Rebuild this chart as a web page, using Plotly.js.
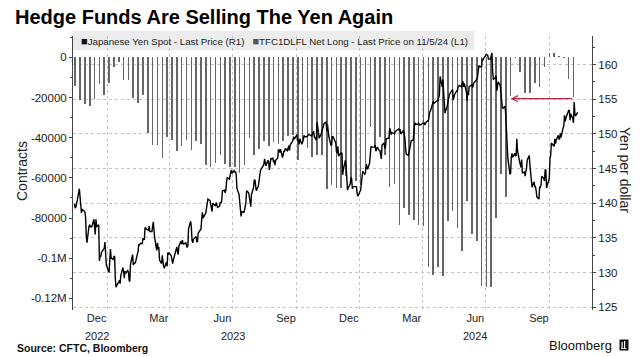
<!DOCTYPE html>
<html>
<head>
<meta charset="utf-8">
<script src="https://cdn.plot.ly/plotly-3.0.1.min.js"></script>
<style>
html,body{margin:0;padding:0;background:#fff;}
#chart{width:643px;height:357px;}
</style>
</head>
<body>
<div id="chart"></div>
<script>
// ---------- Japanese Yen Spot (USDJPY), daily ----------
const yenMonths = ['2022-11','2022-12','2023-01','2023-02','2023-03','2023-04','2023-05','2023-06','2023-07','2023-08','2023-09','2023-10','2023-11','2023-12','2024-01','2024-02','2024-03','2024-04','2024-05','2024-06','2024-07','2024-08','2024-09','2024-10','2024-11'];
const yenDays = [
  [14,15,16,17,18,21,22,23,24,25,28,29,30],
  [1,2,5,6,7,8,9,12,13,14,15,16,19,20,21,22,23,27,28,29,30],
  [3,4,5,6,9,10,11,12,13,16,17,18,19,20,23,24,25,26,27,30,31],
  [1,2,3,6,7,8,9,10,13,14,15,16,17,20,21,22,23,24,27,28],
  [1,2,3,6,7,8,9,10,13,14,15,16,17,20,21,22,23,24,27,28,29,30,31],
  [3,4,5,6,7,10,11,12,13,14,17,18,19,20,21,24,25,26,27,28],
  [1,2,3,4,5,8,9,10,11,12,15,16,17,18,19,22,23,24,25,26,29,30,31],
  [1,2,5,6,7,8,9,12,13,14,15,16,19,20,21,22,23,26,27,28,29,30],
  [3,4,5,6,7,10,11,12,13,14,17,18,19,20,21,24,25,26,27,28,31],
  [1,2,3,4,7,8,9,10,11,14,15,16,17,18,21,22,23,24,25,28,29,30,31],
  [1,4,5,6,7,8,11,12,13,14,15,18,19,20,21,22,25,26,27,28,29],
  [2,3,4,5,6,9,10,11,12,13,16,17,18,19,20,23,24,25,26,27,30,31],
  [1,2,3,6,7,8,9,10,13,14,15,16,17,20,21,22,23,24,27,28,29,30],
  [1,4,5,6,7,8,11,12,13,14,15,18,19,20,21,22,26,27,28,29],
  [2,3,4,5,8,9,10,11,12,15,16,17,18,19,22,23,24,25,26,29,30,31],
  [1,2,5,6,7,8,9,12,13,14,15,16,19,20,21,22,23,26,27,28,29],
  [1,4,5,6,7,8,11,12,13,14,15,18,19,20,21,22,25,26,27,28,29],
  [1,2,3,4,5,8,9,10,11,12,15,16,17,18,19,22,23,24,25,26,29,30],
  [1,2,3,6,7,8,9,10,13,14,15,16,17,20,21,22,23,24,27,28,29,30,31],
  [3,4,5,6,7,10,11,12,13,14,17,18,19,20,21,24,25,26,27,28],
  [1,2,3,4,5,8,9,10,11,12,15,16,17,18,19,22,23,24,25,26,29,30,31],
  [1,2,5,6,7,8,9,12,13,14,15,16,19,20,21,22,23,26,27,28,29,30],
  [2,3,4,5,6,9,10,11,12,13,16,17,18,19,20,23,24,25,26,27,30],
  [1,2,3,4,7,8,9,10,11,14,15,16,17,18,21,22,23,24,25,28,29,30,31],
  [1,4,5,6,7,8,11]
];
const yenPrices = [
  [139.9,139.3,139.5,140.2,140.4,142.1,141.2,139.5,138.6,139.1,138.9,138.7,138.0],
  [135.3,134.3,136.7,136.9,136.6,136.6,136.6,137.7,135.6,135.5,137.7,136.6,136.9,131.7,132.4,132.3,132.9,133.5,134.4,133.0,131.1],
  [130.0,132.4,133.4,132.1,131.9,132.3,132.4,129.2,127.9,128.5,128.6,128.9,128.4,129.6,130.7,130.2,129.2,130.2,129.9,130.3,130.1],
  [128.9,128.7,131.2,132.6,131.1,131.4,131.4,131.4,132.4,133.1,134.1,134.0,134.2,134.2,134.9,134.9,134.7,136.5,136.2,136.2],
  [136.1,136.7,135.9,135.9,137.2,137.3,136.1,135.0,133.2,134.3,133.4,133.7,131.8,131.3,132.5,131.5,130.8,130.7,131.5,130.9,132.9,132.7,132.8],
  [132.4,131.7,131.3,131.8,132.2,133.6,133.7,133.0,132.6,133.8,134.5,134.1,134.7,134.2,134.1,134.3,133.7,133.6,133.9,136.3],
  [137.4,136.6,134.7,134.3,134.8,135.1,135.2,134.4,134.5,135.7,136.1,136.3,137.6,138.7,137.9,138.6,138.6,139.3,139.9,140.6,140.4,139.8,139.3],
  [138.8,140.0,139.6,139.6,140.1,139.4,139.4,139.6,140.2,140.0,140.3,141.8,141.9,141.5,141.9,143.1,143.7,143.5,144.0,144.5,144.8,144.3],
  [144.7,144.5,144.6,144.1,142.1,141.3,140.4,138.6,138.1,138.8,138.7,139.0,139.7,140.1,141.8,141.5,140.9,140.3,139.5,141.2,142.3],
  [143.3,143.4,142.6,141.8,142.5,143.4,143.8,144.7,144.9,145.6,145.6,146.4,145.8,145.4,146.2,145.9,144.8,146.1,146.4,146.5,145.9,146.2,145.5],
  [146.2,146.5,147.7,147.7,147.3,147.8,146.6,147.1,147.5,147.5,147.9,147.6,147.9,148.3,147.6,148.4,148.9,149.1,149.6,149.3,149.4],
  [149.9,149.0,149.1,148.5,149.3,148.5,148.7,149.1,149.8,149.6,149.6,149.8,149.8,149.9,149.9,149.7,149.9,150.2,150.4,149.6,149.1,151.7],
  [150.9,150.4,149.4,150.0,150.4,150.9,151.4,151.5,151.7,150.4,151.4,150.6,149.6,148.4,148.4,149.6,149.6,149.4,148.7,147.5,147.2,148.2],
  [146.8,147.2,147.1,147.3,144.1,144.9,146.2,145.4,142.9,141.9,142.2,142.8,143.8,143.5,142.1,142.4,142.4,142.4,141.4,141.0],
  [141.9,143.3,144.6,144.6,144.2,144.4,145.7,145.3,144.9,145.8,147.2,148.2,148.1,148.1,148.1,148.4,147.5,147.7,148.1,147.6,147.6,146.9],
  [146.4,148.4,148.7,147.9,148.2,149.3,149.3,149.4,150.8,150.6,149.9,150.2,150.1,150.0,150.3,150.5,150.5,150.7,150.5,150.7,150.0],
  [150.1,150.5,150.0,149.4,148.0,147.1,146.9,147.7,147.8,148.3,149.0,149.1,150.9,151.3,151.6,151.4,151.4,151.5,151.3,151.4,151.3],
  [151.6,151.6,151.6,151.3,151.6,151.9,151.8,153.2,153.2,153.3,154.2,154.7,154.4,154.6,154.6,154.8,154.8,155.3,155.6,158.3,156.8,157.8],
  [155.8,153.0,153.0,153.9,154.7,155.5,155.5,155.8,156.2,156.4,154.9,155.4,155.7,156.2,156.2,156.8,157.0,157.0,156.8,157.1,157.6,156.8,157.3],
  [156.1,154.8,156.1,155.6,156.8,157.0,157.1,156.7,157.0,157.4,157.7,157.9,158.1,158.9,159.8,159.7,159.7,160.8,160.7,160.9],
  [161.5,161.5,161.4,161.3,160.8,160.8,161.3,161.7,159.0,157.9,158.1,158.4,156.2,157.4,157.5,157.0,155.6,153.9,153.9,153.7,154.0,152.7,150.0],
  [149.3,146.5,144.2,144.3,146.7,147.2,146.6,147.2,146.8,146.9,149.3,147.6,146.0,145.2,145.2,146.3,144.4,144.5,143.9,144.6,145.0,146.2],
  [146.9,145.4,143.7,143.4,142.3,143.1,142.4,142.4,141.8,140.9,140.6,142.4,142.3,142.6,143.9,143.6,143.2,144.8,144.8,142.2,143.6],
  [143.6,146.5,146.9,148.7,148.2,148.2,149.3,148.6,149.1,149.8,149.2,149.3,150.1,149.5,150.9,151.1,152.7,151.8,152.3,153.3,153.4,153.4,152.0],
  [152.9,152.2,151.6,154.6,152.9,152.6,153.1]
];

// ---------- TFC1DLFL Net Long (leveraged funds), weekly reports from 2022-11-15 ----------
const firstReport = '2022-11-15';
const netLong = [
  -14500,-21200,-23100,-24000,-21000,-13100,-19000,-12800,-5000,-2300,
  -11500,-11300,-20300,-22600,-18700,-37600,-43700,-43700,-50200,-39700,
  -41400,-46600,-44300,-41000,-46000,-41500,-43000,-53800,-54500,-52500,
  -48500,-53000,-54500,-54700,-57800,-53600,-40200,-48600,-45600,-41800,
  -44200,-42000,-43000,-41700,-39000,-38500,-51000,-41500,-45000,-49500,
  -48500,-48400,-65600,-63500,-65000,-65200,-59300,-59700,-61500,-63800,
  -52700,-34700,-44000,-39700,-48500,-64800,-63000,-83500,-75200,-78500,
  -81000,-83500,-83800,-104300,-108500,-104300,-108800,-81300,-76300,-85200,
  -96500,-71300,-88000,-91500,-114000,-114300,-114500,-80000,-58000,-69700,
  -19500,-500,-7300,-18000,-18000,-12700,-14700,-4700,2000,2000,
  700,-200,-11000,-19800
];

// ---------- axes / labels ----------
const leftTickVals = [0,-20000,-40000,-60000,-80000,-100000,-120000];
const leftTickText = ['0','-20000','-40000','-60000','-80000','-0.1M','-0.12M'];
const monthTickDates = ['2022-12-16','2023-03-16','2023-06-16','2023-09-16','2023-12-16','2024-03-16','2024-06-16','2024-09-16'];
const monthTickText = ['Dec','Mar','Jun','Sep','Dec','Mar','Jun','Sep'];
const yearLabelDates = ['2022-12-16','2023-07-02','2024-06-16'];
const yearLabels = ['2022','2023','2024'];
const arrowTailDate = '2024-11-05';
const arrowHeadDate = '2024-08-06';
const arrowLevel = -20600;

// ---------- build series ----------
const yenX = [], yenY = [];
yenMonths.forEach((m, i) => {
  yenDays[i].forEach((d, j) => {
    yenX.push(m + '-' + String(d).padStart(2, '0'));
    yenY.push(yenPrices[i][j]);
  });
});
const reportDates = [];
const t0 = Date.parse(firstReport + 'T00:00:00Z');
for (let k = 0; k < netLong.length; k++) {
  reportDates.push(new Date(t0 + k * 7 * 86400000).toISOString().slice(0, 10));
}

// ---------- geometry helpers (plot area 73..592 x 36..310) ----------
const L = 73, R = 592, T = 36, B = 310;
const px = x => (x - L) / (R - L);
const py = y => (B - y) / (B - T);

const FONT = 'Liberation Sans, Arial, sans-serif';

const traces = [
  {
    type: 'bar', x: reportDates, y: netLong, yaxis: 'y', xaxis: 'x',
    marker: {color: '#666666', line: {width: 0}},
    width: 2.3 * 86400000, name: 'TFC1DLFL', hoverinfo: 'skip'
  },
  {
    type: 'scatter', mode: 'lines', x: yenX, y: yenY, yaxis: 'y2', xaxis: 'x',
    line: {color: '#000000', width: 1.4}, name: 'USDJPY', hoverinfo: 'skip'
  }
];

const layout = {
  width: 643, height: 357,
  margin: {l: L, r: 643 - R, t: T, b: 357 - B, pad: 0},
  paper_bgcolor: '#ffffff', plot_bgcolor: '#ffffff',
  showlegend: false,
  font: {family: FONT, size: 11, color: '#222'},
  title: {
    text: '<b>Hedge Funds Are Selling The Yen Again</b>',
    font: {family: FONT, size: 20, color: '#000'},
    xref: 'container', x: 15 / 643, xanchor: 'left',
    yref: 'container', y: 1 - 17 / 357, yanchor: 'middle'
  },
  bargap: 0,
  xaxis: {
    type: 'date',
    range: ['2022-11-11 19:00', '2024-12-01 19:00'],
    tickmode: 'array', tickvals: monthTickDates, ticktext: monthTickText,
    ticks: '', showgrid: false, showline: false, zeroline: false,
    tickfont: {family: FONT, size: 11, color: '#222'},
    minor: {dtick: 'M3', tick0: '2023-01-01', showgrid: true, gridcolor: '#c4c4c4', griddash: 'dot', gridwidth: 1, ticks: ''},
    fixedrange: true
  },
  yaxis: {
    range: [-125800, 10600],
    tickmode: 'array', tickvals: leftTickVals, ticktext: leftTickText,
    ticks: 'outside', ticklen: 3, tickcolor: '#444', tickwidth: 1,
    showline: true, linecolor: '#444', linewidth: 1,
    showgrid: false, zeroline: false,
    tickfont: {family: FONT, size: 11.5, color: '#222'},
    minor: {tickmode: 'linear', tick0: 0, dtick: 10000, ticks: 'outside', ticklen: 2, tickcolor: '#444', showgrid: false},
    fixedrange: true
  },
  yaxis2: {
    overlaying: 'y', side: 'right',
    range: [124.6, 164.13],
    tickmode: 'linear', tick0: 125, dtick: 5,
    ticks: 'outside', ticklen: 3, tickcolor: '#444', tickwidth: 1,
    showline: true, linecolor: '#444', linewidth: 1,
    showgrid: true, gridcolor: '#c4c4c4', griddash: 'dot', gridwidth: 1,
    zeroline: false,
    tickfont: {family: FONT, size: 11.5, color: '#222'},
    minor: {tickmode: 'linear', tick0: 125, dtick: 2.5, ticks: 'outside', ticklen: 2, tickcolor: '#444', showgrid: false},
    fixedrange: true
  },
  shapes: [
    // legend background
    {type: 'rect', xref: 'paper', yref: 'paper', x0: px(72.7), x1: px(474), y0: py(50), y1: py(30.7),
     fillcolor: '#ececec', line: {width: 0}, layer: 'below'},
    // Bloomberg logo mark
    {type: 'rect', xref: 'paper', yref: 'paper', x0: px(619.5), x1: px(628.5), y0: py(350.5), y1: py(339.5),
     fillcolor: '#111', line: {width: 0}, layer: 'above'},
    {type: 'rect', xref: 'paper', yref: 'paper', x0: px(621.5), x1: px(622.7), y0: py(348.5), y1: py(342),
     fillcolor: '#fff', line: {width: 0}, layer: 'above'},
    {type: 'rect', xref: 'paper', yref: 'paper', x0: px(624), x1: px(625.2), y0: py(348.5), y1: py(341),
     fillcolor: '#fff', line: {width: 0}, layer: 'above'},
    {type: 'rect', xref: 'paper', yref: 'paper', x0: px(621), x1: px(626.5), y0: py(349), y1: py(348.2),
     fillcolor: '#fff', line: {width: 0}, layer: 'above'}
  ],
  annotations: [
    {xref: 'paper', yref: 'paper', x: px(79), y: py(40.7), xanchor: 'left', yanchor: 'middle', showarrow: false,
     text: '<span style="color:#111;font-size:11px">■</span>Japanese Yen Spot - Last Price (R1)   <span style="color:#555;font-size:11px">■</span>TFC1DLFL Net Long - Last Price on 11/5/24 (L1)',
     font: {family: FONT, size: 9.7, color: '#222'}},
    {xref: 'paper', yref: 'paper', x: px(22), y: py(171), xanchor: 'center', yanchor: 'middle', showarrow: false,
     text: 'Contracts', textangle: -90, font: {family: FONT, size: 14, color: '#222'}},
    {xref: 'paper', yref: 'paper', x: px(625), y: py(170), xanchor: 'center', yanchor: 'middle', showarrow: false,
     text: 'Yen per dollar', textangle: 90, font: {family: FONT, size: 14, color: '#222'}},
    {xref: 'paper', yref: 'paper', x: px(15), y: py(347.5), xanchor: 'left', yanchor: 'middle', showarrow: false,
     text: '<b>Source: CFTC, Bloomberg</b>', font: {family: FONT, size: 10.5, color: '#111'}},
    {xref: 'paper', yref: 'paper', x: px(614), y: py(345), xanchor: 'right', yanchor: 'middle', showarrow: false,
     text: 'Bloomberg', font: {family: FONT, size: 13, color: '#111'}},
    // red arrow
    {xref: 'x', yref: 'y', x: arrowHeadDate, y: arrowLevel, axref: 'x', ayref: 'y', ax: arrowTailDate, ay: arrowLevel,
     showarrow: true, text: '', arrowhead: 5, arrowsize: 1, arrowwidth: 1.2, arrowcolor: '#b8293d', standoff: 0, startstandoff: 0}
  ].concat(yearLabelDates.map((d, i) => ({
    xref: 'x', yref: 'paper', x: d, y: py(335.5), xanchor: 'center', yanchor: 'middle', showarrow: false,
    text: yearLabels[i], font: {family: FONT, size: 11, color: '#222'}
  })))
};

Plotly.newPlot('chart', traces, layout, {staticPlot: true, displayModeBar: false});
</script>
</body>
</html>
